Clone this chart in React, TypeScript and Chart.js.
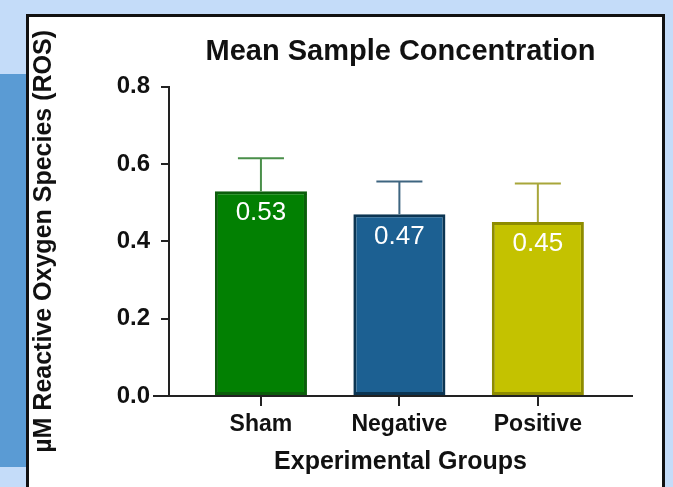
import React, { useEffect, useRef } from "react";
import { Chart, registerables } from "chart.js";

Chart.register(...registerables);

const categories = ["Sham", "Negative", "Positive"];
const means = [0.53, 0.47, 0.45];
const errors = [0.085, 0.085, 0.1];
const yTickValues = [0, 0.2, 0.4, 0.6, 0.8];

const fillColors = ["#028002", "#1c6092", "#c4c200"];
const borderColors = ["#0b5e0b", "#0c3552", "#8e8c00"];
const errorColors = ["#4a8f4a", "#3e6580", "#a8a63a"];

const FONT = '"Liberation Sans", Arial, Helvetica, sans-serif';

const errorAndLabelPlugin = {
  id: "errorAndLabel",
  afterDraw(chart: any) {
    const ctx = chart.ctx;
    const yScale = chart.scales.y;
    const y0 = yScale.getPixelForValue(0);
    const ext = yScale.options.grid.tickLength * 2;
    ctx.save();
    ctx.strokeStyle = "#222222";
    ctx.lineWidth = 2;
    ctx.beginPath();
    ctx.moveTo(chart.chartArea.left - ext, y0);
    ctx.lineTo(chart.chartArea.left, y0);
    ctx.stroke();
    ctx.restore();
  },
  afterDatasetsDraw(chart: any) {
    const ctx = chart.ctx;
    const meta = chart.getDatasetMeta(0);
    const yScale = chart.scales.y;
    ctx.save();
    meta.data.forEach((el: any, i: number) => {
      const top = yScale.getPixelForValue(means[i] + errors[i]);
      const half = el.width / 4;
      ctx.strokeStyle = errorColors[i];
      ctx.lineWidth = 2;
      ctx.beginPath();
      ctx.moveTo(el.x, el.y);
      ctx.lineTo(el.x, top);
      ctx.moveTo(el.x - half, top);
      ctx.lineTo(el.x + half, top);
      ctx.stroke();
    });
    ctx.fillStyle = "#ffffff";
    ctx.font = `26px ${FONT}`;
    ctx.textAlign = "center";
    ctx.textBaseline = "middle";
    meta.data.forEach((el: any, i: number) => {
      ctx.fillText(means[i].toFixed(2), el.x, el.y + 22);
    });
    ctx.restore();
  },
};

function BarChart() {
  const ref = useRef<HTMLCanvasElement | null>(null);
  useEffect(() => {
    if (!ref.current) return;
    const chart = new Chart(ref.current, {
      type: "bar",
      data: {
        datasets: [
          {
            data: means.map((v, i) => ({ x: i, y: v })),
            backgroundColor: fillColors,
            borderColor: borderColors,
            borderWidth: 3,
            borderSkipped: false,
            barPercentage: 0.665,
            categoryPercentage: 1,
          },
        ],
      },
      options: {
        responsive: false,
        animation: false,
        layout: { padding: { left: 0, right: 30, top: 0, bottom: 0 } },
        plugins: {
          legend: { display: false },
          tooltip: { enabled: false },
          title: {
            display: true,
            text: "Mean Sample Concentration",
            fullSize: false,
            color: "#111111",
            font: { family: FONT, size: 29, weight: "bold" },
            padding: { top: 18, bottom: 17 },
          },
        },
        scales: {
          x: {
            type: "linear",
            offset: false,
            min: -0.664,
            max: 2.68,
            afterBuildTicks: (scale: any) => {
              scale.ticks = categories.map((_, i) => ({ value: i }));
            },
            afterFit: (scale: any) => {
              scale.height = 91;
            },
            ticks: {
              autoSkip: false,
              maxRotation: 0,
              padding: 5,
              color: "#111111",
              font: { family: FONT, size: 23, weight: "bold" },
              callback: (v: any) => categories[v] ?? "",
            },
            grid: {
              display: true,
              offset: false,
              drawOnChartArea: false,
              drawTicks: true,
              tickLength: 10,
              color: "#222222",
              lineWidth: 2,
            },
            border: { display: true, color: "#222222", width: 2 },
            title: {
              display: true,
              text: "Experimental Groups",
              color: "#111111",
              font: { family: FONT, size: 25, weight: "bold" },
              padding: { top: 4, bottom: 10 },
            },
          },
          y: {
            min: 0,
            max: 0.8,
            afterBuildTicks: (scale: any) => {
              scale.ticks = yTickValues.map((v) => ({ value: v }));
            },
            afterFit: (scale: any) => {
              scale.width = 140;
            },
            ticks: {
              padding: 11,
              color: "#111111",
              font: { family: FONT, size: 24, weight: "bold" },
              callback: (v: any) => Number(v).toFixed(1),
            },
            grid: {
              display: true,
              drawOnChartArea: false,
              drawTicks: true,
              tickLength: 8,
              color: "#222222",
              lineWidth: 2,
            },
            border: { display: true, color: "#222222", width: 2 },
            title: {
              display: true,
              text: "µM Reactive Oxygen Species (ROS)",
              color: "#111111",
              font: { family: FONT, size: 25, weight: "bold" },
              padding: { top: 0, bottom: 0 },
            },
          },
        },
      } as any,
      plugins: [errorAndLabelPlugin],
    });
    return () => chart.destroy();
  }, []);
  return (
    <canvas
      ref={ref}
      width={633}
      height={470}
      style={{ display: "block", width: 633, height: 470 }}
    />
  );
}

export default function App() {
  return (
    <div
      style={{
        position: "fixed",
        left: 0,
        top: 0,
        width: 673,
        height: 487,
        overflow: "hidden",
        background: "#c4dcf9",
      }}
    >
      <div
        style={{
          position: "absolute",
          left: 0,
          top: 74,
          width: 28,
          height: 393,
          background: "#5a9bd4",
        }}
      />
      <div
        style={{
          position: "absolute",
          left: 26,
          top: 14,
          width: 639,
          height: 490,
          boxSizing: "border-box",
          border: "3px solid #111111",
          background: "#ffffff",
        }}
      >
        <BarChart />
      </div>
    </div>
  );
}
